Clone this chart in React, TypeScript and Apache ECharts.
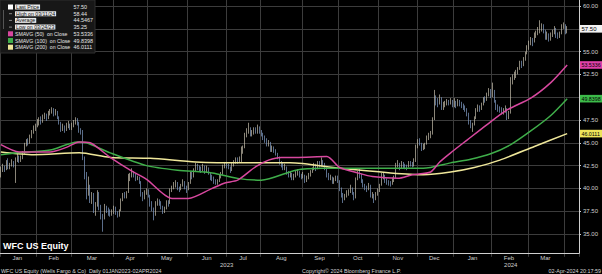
import React, { useEffect, useRef } from "react";
import * as echarts from "echarts";

// Daily bars per month: [close, low, high]
const jan23 = [[41.9,41.2,42.4],[42.4,41.8,42.7],[42.1,41.8,42.5],[42.9,42.0,43.1],[42.3,42.1,43.3],[42.6,42.1,42.8],[42.8,42.4,43.2],[42.6,42.3,43.0],[43.2,40.6,43.4],[43.5,42.9,43.9],[43.0,42.8,43.6],[43.3,42.9,43.6],[43.9,43.2,44.1],[44.8,43.8,45.0],[45.2,44.6,45.4],[45.0,44.7,45.5],[45.6,44.9,45.9],[46.2,45.5,46.4],[46.6,46.0,46.9],[46.9,46.3,47.1]];
const feb23 = [[47.2,46.7,47.6],[47.6,46.9,47.8],[47.3,47.0,47.9],[47.9,47.2,48.1],[48.0,47.6,48.3],[47.6,47.4,48.2],[48.3,47.6,48.5],[48.5,48.0,48.7],[48.7,48.2,48.9],[48.2,47.9,48.8],[48.5,48.0,48.7],[47.8,47.6,48.5],[47.2,47.0,47.9],[46.5,46.2,47.3],[46.8,46.3,47.1],[46.4,46.1,46.9],[46.9,46.3,47.2],[47.0,46.6,47.4],[46.7,46.4,47.1]];
const mar23 = [[46.9,46.4,47.2],[47.2,46.7,47.5],[47.5,47.0,47.8],[47.2,46.9,47.7],[46.3,46.1,47.3],[46.2,45.9,46.6],[43.3,43.1,46.4],[41.6,41.0,43.5],[39.6,38.8,41.8],[40.2,39.2,41.3],[38.8,38.4,40.4],[39.3,38.3,39.6],[37.6,37.3,39.5],[38.2,37.0,38.5],[39.5,38.0,39.8],[37.8,37.6,39.6],[36.9,36.6,38.2],[36.7,35.25,37.2],[38.0,36.6,38.3],[37.6,37.3,38.1],[37.3,37.0,37.9],[37.2,36.9,37.7],[37.4,37.0,37.7]];
const apr23 = [[37.9,37.2,38.1],[37.3,37.1,38.0],[37.0,36.8,37.5],[37.5,36.9,37.7],[38.7,37.6,38.9],[39.3,38.6,39.5],[39.1,38.9,39.6],[39.5,38.9,39.7],[41.0,39.6,41.6],[41.4,40.8,41.7],[41.7,41.2,42.2],[41.5,41.2,41.9],[41.1,40.8,41.6],[41.2,40.9,41.4],[40.8,40.5,41.3],[39.4,39.1,40.7],[38.8,38.6,39.6],[39.6,38.9,39.8],[39.8,39.3,40.0]];
const may23 = [[39.3,39.0,39.9],[38.3,38.0,39.2],[37.9,37.5,38.6],[37.0,36.5,37.9],[38.4,37.3,38.6],[38.6,38.1,38.9],[38.4,38.1,38.8],[38.0,37.7,38.6],[37.5,37.2,38.1],[37.8,37.3,38.0],[38.4,37.7,38.7],[38.3,38.0,38.7],[39.8,38.4,40.0],[40.1,39.6,40.3],[40.4,39.9,40.7],[40.6,40.1,40.9],[40.0,39.8,40.7],[39.9,39.6,40.2],[40.3,39.8,40.5],[40.7,40.2,41.0],[40.2,39.9,40.8],[39.8,39.5,40.3]];
const jun23 = [[40.5,39.9,40.7],[41.6,40.8,41.8],[41.2,41.0,41.8],[42.0,41.2,42.2],[42.5,41.9,42.8],[42.3,42.0,42.7],[42.2,41.9,42.5],[42.0,41.7,42.4],[42.4,41.9,42.7],[41.8,41.6,42.5],[42.2,41.7,42.5],[41.8,41.5,42.3],[41.2,40.9,41.8],[41.1,40.8,41.5],[40.8,40.5,41.3],[40.6,40.4,41.0],[40.8,40.4,41.0],[41.3,40.7,41.5],[41.5,41.1,41.8],[42.4,41.6,42.6],[42.7,42.2,42.9]];
const jul23 = [[42.5,42.2,42.9],[42.4,42.1,42.7],[42.0,41.7,42.4],[42.6,41.9,42.8],[42.9,42.4,43.1],[43.1,42.7,43.4],[43.0,42.7,43.4],[43.3,42.8,43.5],[44.0,42.9,44.6],[44.4,43.8,44.7],[45.8,44.5,46.1],[46.3,45.6,46.6],[46.6,46.0,47.2],[45.9,45.7,46.7],[46.1,45.7,46.4],[46.4,45.9,46.7],[46.3,46.0,46.7],[46.5,46.0,47.0],[46.3,46.0,46.8]];
const aug23 = [[46.0,45.7,46.4],[45.6,45.3,46.1],[45.3,45.0,45.8],[44.8,44.6,45.5],[45.1,44.6,45.3],[44.3,44.0,44.9],[44.4,44.0,44.7],[44.1,43.9,44.6],[43.8,43.6,44.3],[43.4,43.2,43.9],[42.8,42.6,43.5],[42.6,42.3,43.0],[42.3,42.0,42.8],[42.4,42.0,42.7],[41.8,41.5,42.4],[41.5,41.2,41.9],[41.6,41.2,41.9],[41.1,40.9,41.7],[41.3,40.9,41.6],[41.7,41.2,41.9],[41.8,41.4,42.1],[41.4,41.2,41.9],[41.3,41.0,41.6]];
const sep23 = [[41.5,41.1,41.8],[40.9,40.6,41.5],[41.2,40.7,41.4],[41.5,41.0,41.7],[41.8,41.3,42.0],[42.1,41.7,42.3],[42.6,42.0,42.8],[42.2,41.9,42.7],[42.8,42.1,43.0],[42.6,42.3,43.0],[42.9,42.4,43.4],[42.7,42.4,43.1],[42.3,42.0,42.8],[41.5,41.2,42.3],[41.2,40.9,41.7],[41.3,40.9,41.5],[40.7,40.5,41.3],[41.0,40.5,41.2],[41.2,40.8,41.4],[40.9,40.6,41.4]];
const oct23 = [[40.0,39.7,40.9],[39.3,39.0,40.1],[38.9,38.4,39.5],[39.2,38.7,39.4],[39.5,39.0,39.8],[39.6,39.2,39.9],[40.0,39.5,40.4],[39.5,39.3,40.1],[38.9,38.7,39.6],[40.9,39.6,41.2],[41.6,40.9,41.9],[41.5,41.1,42.2],[40.9,40.6,41.6],[40.4,40.1,41.0],[40.1,39.8,40.5],[39.9,39.6,40.3],[40.4,39.8,40.6],[39.3,39.0,40.3],[39.3,38.9,39.6],[38.7,38.4,39.4],[39.4,38.7,39.6],[39.8,39.2,40.0]];
const nov23 = [[40.3,39.6,40.5],[41.4,40.4,41.7],[41.4,41.0,41.7],[40.9,40.6,41.5],[40.7,40.4,41.1],[40.6,40.3,40.9],[40.5,40.2,40.8],[41.0,40.4,41.2],[41.1,40.7,41.4],[42.6,41.5,42.8],[42.7,42.3,43.1],[42.3,42.0,42.8],[42.8,42.2,43.0],[42.5,42.2,42.9],[42.4,42.1,42.7],[42.3,42.0,42.6],[42.8,42.3,43.0],[42.7,42.4,43.0],[42.6,42.3,42.9],[42.9,42.4,43.3],[44.5,43.2,44.8]];
const dec23 = [[45.2,44.4,45.4],[45.0,44.7,45.5],[44.4,44.1,45.0],[44.6,44.2,44.9],[44.8,44.3,45.0],[45.6,44.8,45.8],[45.8,45.3,46.1],[46.0,45.5,46.3],[47.5,45.9,47.8],[49.8,47.6,50.8],[49.6,49.1,50.2],[49.4,48.9,49.9],[49.9,49.2,50.3],[48.8,48.6,50.0],[49.2,48.6,49.5],[49.3,48.9,49.6],[49.5,49.1,49.8],[49.4,49.1,49.7],[49.6,49.2,49.9],[49.2,48.9,49.7]];
const jan24 = [[49.6,48.9,49.9],[49.1,48.8,49.6],[49.5,49.0,49.8],[49.3,49.0,49.7],[49.2,48.8,49.5],[48.9,48.6,49.3],[48.7,48.4,49.1],[48.2,47.9,48.8],[47.4,47.0,48.3],[46.9,46.6,47.5],[46.9,46.2,47.2],[47.7,46.9,47.9],[48.6,47.6,48.8],[48.9,48.4,49.2],[48.7,48.4,49.1],[49.2,48.6,49.4],[49.8,49.1,50.0],[49.7,49.4,50.1],[50.3,49.6,50.5],[50.8,50.1,51.0],[50.2,49.9,50.9]];
const feb24 = [[50.8,50.0,51.6],[49.7,49.4,50.6],[48.9,48.6,49.6],[48.8,48.4,49.2],[48.6,48.3,49.0],[48.4,48.1,48.9],[48.5,48.1,48.8],[48.8,48.3,49.1],[47.8,47.5,48.6],[48.2,47.6,48.5],[51.6,48.4,52.2],[52.2,51.4,52.5],[52.4,51.9,52.8],[52.7,52.1,53.0],[53.0,52.5,53.3],[53.7,53.0,54.0],[53.5,53.2,54.0],[54.1,53.4,54.4],[54.7,54.0,55.0],[55.4,54.7,55.7]];
const mar24 = [[55.9,55.2,56.2],[56.3,55.7,56.6],[56.0,55.6,56.5],[56.8,56.1,57.1],[57.0,56.5,57.3],[57.3,56.8,57.7],[57.6,57.0,58.44],[57.7,57.2,58.1],[57.3,57.0,58.0],[56.6,56.3,57.4],[56.8,56.3,57.2],[56.4,56.1,57.0],[56.8,56.2,57.1],[57.1,56.6,57.4],[57.5,56.9,57.8],[56.8,56.5,57.6],[56.7,56.4,57.1],[56.9,56.5,57.2],[57.8,56.9,58.0],[57.9,57.5,58.2]];
const apr24 = [[57.3,56.9,58.0],[57.5,57.0,57.8]];

const priorClose = 41.3;

const months = [
  { name: "Jan", year: "2023", bars: jan23 },
  { name: "Feb", year: "2023", bars: feb23 },
  { name: "Mar", year: "2023", bars: mar23 },
  { name: "Apr", year: "2023", bars: apr23 },
  { name: "May", year: "2023", bars: may23 },
  { name: "Jun", year: "2023", bars: jun23 },
  { name: "Jul", year: "2023", bars: jul23 },
  { name: "Aug", year: "2023", bars: aug23 },
  { name: "Sep", year: "2023", bars: sep23 },
  { name: "Oct", year: "2023", bars: oct23 },
  { name: "Nov", year: "2023", bars: nov23 },
  { name: "Dec", year: "2023", bars: dec23 },
  { name: "Jan", year: "2024", bars: jan24 },
  { name: "Feb", year: "2024", bars: feb24 },
  { name: "Mar", year: "2024", bars: mar24 },
  { name: "Apr", year: "2024", bars: apr24 },
];

// Moving averages: [trading-day index, value]
const sma50Points = [[0,44.8],[10,44.0],[27,44.0],[36,44.5],[43,45.1],[49,45.0],[60,43.4],[71,42.0],[80,41.0],[94,38.9],[103,38.9],[116,40.0],[123,40.6],[130,40.9],[140,42.4],[147,43.1],[154,43.4],[162,43.4],[179,43.5],[186,42.3],[196,41.7],[204,41.3],[218,41.1],[226,41.5],[236,41.8],[241,42.9],[247,43.9],[256,45.3],[267,47.0],[278,48.6],[291,49.9],[302,51.6],[311,53.5336]];
const sma100Points = [[0,43.7],[9,43.9],[27,44.2],[42,45.1],[47,45.0],[60,43.9],[80,42.5],[97,42.0],[116,41.7],[130,41.1],[143,40.9],[162,42.0],[177,42.2],[204,42.2],[232,42.2],[247,42.8],[258,43.2],[269,43.8],[280,44.8],[291,46.3],[302,48.0],[311,49.8398]];
const sma200Points = [[0,44.0],[18,43.7],[43,43.9],[60,43.4],[82,43.3],[107,42.9],[134,42.8],[159,42.8],[186,42.2],[214,41.7],[232,41.5],[247,41.8],[260,42.3],[274,43.1],[293,44.6],[311,46.0111]];

const lastPrice = 57.5;
const highLabel = "High on 03/11/24";
const highValue = "58.44";
const averageValue = "44.5467";
const lowLabel = "Low on 03/24/23";
const lowValue = "35.25";
const sma50Last = 53.5336;
const sma100Last = 49.8398;
const sma200Last = 46.0111;

const yTickValues = ["60.00", "57.50", "55.00", "52.50", "50.00", "47.50", "45.00", "42.50", "40.00", "37.50", "35.00"];
const paddingDays = 6;

const UP = "#c6beac";
const DOWN = "#819cc6";
const MAGENTA = "#d8489f";
const GREEN = "#3fae4a";
const YELLOW = "#efe79a";
const FONT = "'Liberation Sans', Arial, sans-serif";

export default function App() {
  const ref = useRef<HTMLDivElement>(null);

  useEffect(() => {
    const chart = echarts.init(ref.current!, null, { renderer: "svg" });

    const categories: string[] = [];
    const ohlc: number[][] = [];
    const monthStart = new Set<number>();
    const monthMid = new Map<number, string>();
    const yearMid = new Map<number, string>();
    const yearRange: Record<string, [number, number]> = {};
    let prev = priorClose;
    months.forEach((m) => {
      const start = categories.length;
      monthStart.add(start);
      if (m.bars.length >= 10) monthMid.set(start + Math.floor((m.bars.length - 1) / 2), m.name);
      m.bars.forEach((b, k) => {
        categories.push(`${m.year}-${m.name}-${k + 1}`);
        const [c, l, h] = b;
        ohlc.push([prev, c, Math.min(l, prev, c), Math.max(h, prev, c)]);
        prev = c;
      });
      const end = categories.length - 1;
      if (!yearRange[m.year]) yearRange[m.year] = [start, end];
      else yearRange[m.year][1] = end;
    });
    Object.keys(yearRange).forEach((y) => {
      const [s, e] = yearRange[y];
      yearMid.set(Math.round((s + e) / 2), y);
    });
    for (let i = 0; i < paddingDays; i++) categories.push(`pad${i}`);

    const tagValues = [lastPrice, sma50Last, sma100Last, sma200Last];
    const pxPerUnit = 9.12;
    const hiddenByTag = (v: number) => tagValues.some((t) => Math.abs(t - v) * pxPerUnit < 6);

    const lineSeries = (name: string, data: number[][], color: string) => ({
      name,
      type: "line",
      data,
      symbol: "none",
      smooth: 0.25,
      lineStyle: { color, width: 1.5 },
      z: 5,
      silent: true,
    });

    chart.setOption({
      animation: false,
      backgroundColor: "#000000",
      textStyle: { fontFamily: FONT },
      grid: { left: 0, right: 23, top: 0, bottom: 17.2, outerBoundsMode: "none", containLabel: false },
      xAxis: [
        {
          type: "category",
          data: categories,
          boundaryGap: true,
          axisLine: { show: false },
          axisTick: { show: false },
          splitLine: {
            show: true,
            interval: (idx: number) => monthStart.has(idx),
            lineStyle: { color: "#3c3c3c", width: 1 },
          },
          axisLabel: {
            interval: (idx: number) => monthMid.has(idx),
            formatter: (_v: string, idx: number) => monthMid.get(idx) || "",
            color: "#cfcfcf",
            fontSize: 6,
            margin: -2,
          },
        },
        {
          type: "category",
          data: categories,
          position: "bottom",
          boundaryGap: true,
          axisLine: { show: false },
          axisTick: { show: false },
          splitLine: { show: false },
          axisLabel: {
            interval: (idx: number) => yearMid.has(idx),
            formatter: (_v: string, idx: number) => yearMid.get(idx) || "",
            color: "#cfcfcf",
            fontSize: 6,
            margin: 5,
          },
        },
      ],
      yAxis: {
        type: "value",
        position: "right",
        min: 32.5,
        max: 60.66,
        interval: 2.5,
        axisLine: { show: false },
        axisTick: { show: true, length: 2, lineStyle: { color: "#cfcfcf" } },
        axisLabel: {
          formatter: (v: number) => (yTickValues.includes(v.toFixed(2)) && !hiddenByTag(v) ? v.toFixed(2) : ""),
          showMinLabel: false,
          showMaxLabel: false,
          color: "#cfcfcf",
          fontSize: 6,
          margin: 4,
        },
        splitLine: { show: true, showMinLine: false, showMaxLine: false, lineStyle: { color: "#3c3c3c", width: 1 } },
      },
      series: [
        {
          name: "Last Price",
          type: "candlestick",
          data: ohlc,
          barWidth: 0.7,
          silent: true,
          itemStyle: { color: UP, color0: DOWN, borderColor: UP, borderColor0: DOWN, borderWidth: 0.7 },
          z: 3,
        },
        lineSeries("SMAVG (200)", sma200Points, YELLOW),
        lineSeries("SMAVG (100)", sma100Points, GREEN),
        lineSeries("SMAVG (50)", sma50Points, MAGENTA),
      ],
    });

    const py = (v: number) => chart.convertToPixel({ yAxisIndex: 0 }, v) as number;
    const tag = (v: number, text: string, fill: string, size: number) => [
      { type: "rect", shape: { x: 580, y: py(v) - 3.8, width: 26, height: 7.6 }, style: { fill }, z: 20 },
      {
        type: "text",
        x: 581.5,
        y: py(v),
        style: { text, fill: "#000", font: `${size}px ${FONT}`, align: "left", verticalAlign: "middle", textAlign: "left", textVerticalAlign: "middle" },
        z: 21,
      },
    ];

    const rowY = (i: number) => 7 + i * 6.7;
    const legendRows = [
      { label: "Last Price", value: lastPrice.toFixed(2), marker: "#ffffff", hl: true },
      { label: highLabel, value: highValue, marker: null, hl: true },
      { label: "Average", value: averageValue, marker: null, hl: true },
      { label: lowLabel, value: lowValue, marker: null, hl: true },
      { label: "SMAVG (50)  on Close", value: sma50Last.toFixed(4), marker: MAGENTA, hl: false },
      { label: "SMAVG (100)  on Close", value: sma100Last.toFixed(4), marker: GREEN, hl: false },
      { label: "SMAVG (200)  on Close", value: sma200Last.toFixed(4), marker: YELLOW, hl: false },
    ];
    const legendEls: any[] = [
      { type: "rect", shape: { x: 0, y: 0, width: 95, height: 53 }, style: { fill: "#171717", stroke: "#2e2e2e", lineWidth: 1 }, z: 30 },
      { type: "line", shape: { x1: 3.5, y1: 10, x2: 3.5, y2: 29 }, style: { stroke: "#555", lineWidth: 1 }, z: 31 },
    ];
    legendRows.forEach((r, i) => {
      const y = rowY(i);
      if (r.marker) {
        legendEls.push({ type: "rect", shape: { x: 8, y: y - 2.5, width: 5, height: 5 }, style: { fill: r.marker }, z: 31 });
      } else {
        legendEls.push({ type: "line", shape: { x1: 9, y1: y, x2: 12, y2: y }, style: { stroke: "#888", lineWidth: 1 }, z: 31 });
      }
      legendEls.push({
        type: "text",
        x: 15,
        y,
        style: {
          text: r.label,
          fill: r.hl ? "#111" : "#e6e6e6",
          backgroundColor: r.hl ? "#e8e8e8" : undefined,
          padding: r.hl ? [0, 1, 0, 1] : 0,
          font: `5.2px ${FONT}`,
          align: "left",
          verticalAlign: "middle",
          textAlign: "left",
          textVerticalAlign: "middle",
        },
        z: 31,
      });
      legendEls.push({
        type: "text",
        x: 73.5,
        y,
        style: { text: r.value, fill: "#e6e6e6", font: `5.4px ${FONT}`, align: "left", verticalAlign: "middle", textAlign: "left", textVerticalAlign: "middle" },
        z: 31,
      });
    });

    const textEl = (text: string, x: number, y: number, font: string, align = "left", fill = "#d8d8d8") => ({
      type: "text",
      x,
      y,
      style: { text, fill, font, align, verticalAlign: "middle", textAlign: align, textVerticalAlign: "middle" },
      z: 25,
    });

    chart.setOption({
      graphic: {
        elements: [
          { type: "line", shape: { x1: 0, y1: 253.5, x2: 579.5, y2: 253.5 }, style: { stroke: "#cfcfcf", lineWidth: 1 }, z: 10 },
          { type: "line", shape: { x1: 579.5, y1: 0, x2: 579.5, y2: 253.5 }, style: { stroke: "#cfcfcf", lineWidth: 1 }, z: 10 },
          ...tag(lastPrice, lastPrice.toFixed(2), "#f2f2f2", 6),
          ...tag(sma50Last, sma50Last.toFixed(4), "#e040a8", 5.3),
          ...tag(sma100Last, sma100Last.toFixed(4), "#3dbb4a", 5.3),
          ...tag(sma200Last, sma200Last.toFixed(4), "#eee45a", 5.3),
          ...legendEls,
          textEl("WFC US Equity", 3, 246, `bold 9px ${FONT}`, "left", "#ffffff"),
          textEl("WFC US Equity (Wells Fargo & Co)  Daily 01JAN2023-02APR2024", 1, 270.5, `5.4px ${FONT}`),
          textEl("Copyright© 2024 Bloomberg Finance L.P.", 302, 270.5, `5.4px ${FONT}`),
          textEl("02-Apr-2024 20:17:59", 601, 270.5, `5.4px ${FONT}`, "right"),
        ],
      },
    });

    return () => chart.dispose();
  }, []);

  return (
    <div
      ref={ref}
      style={{ position: "absolute", left: 0, top: 0, width: 602, height: 274, background: "#000" }}
    />
  );
}
